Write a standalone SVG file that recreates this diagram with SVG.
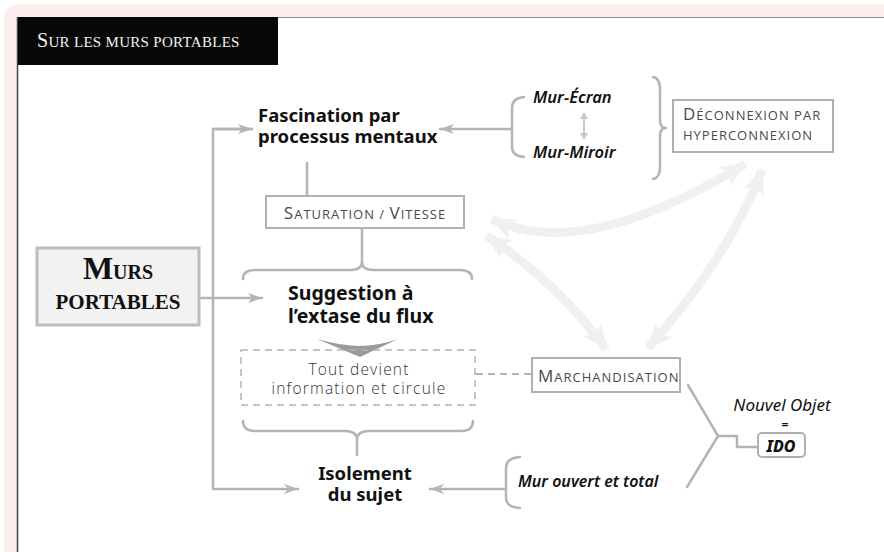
<svg xmlns="http://www.w3.org/2000/svg" width="884" height="552" viewBox="0 0 884 552">
<defs>
<style>
.ln{fill:none;stroke:#b4b4b4;stroke-width:2.5;stroke-linecap:round;stroke-linejoin:round}
.big{fill:none;stroke:#f0f0f0;stroke-width:9}
.bold{font-family:"Noto Sans",Lato,sans-serif;font-weight:700;fill:#111}
.it{font-family:"Noto Sans",Lato,sans-serif;font-style:italic;font-weight:600;fill:#111}
.sc{font-family:"Open Sans","Noto Sans",sans-serif;font-weight:400;fill:#4a4a4a;letter-spacing:1px}
.box{fill:#fff;stroke:#b0b0b0;stroke-width:2}
</style>
<marker id="ah" viewBox="0 0 14 10" refX="14" refY="5" markerWidth="14" markerHeight="10" markerUnits="userSpaceOnUse" orient="auto">
<path d="M0,0 L14,5 L0,10 L4,5 Z" fill="#b4b4b4"/>
</marker>
<marker id="bh" viewBox="0 0 26 22" refX="24" refY="11" markerWidth="26" markerHeight="22" markerUnits="userSpaceOnUse" orient="auto-start-reverse">
<path d="M0,0 L26,11 L0,22 L6,11 Z" fill="#f0f0f0"/>
</marker>
</defs>
<rect x="0" y="0" width="884" height="552" fill="#fff"/>
<rect x="4" y="4" width="900" height="570" rx="14" fill="#fbefee"/>
<rect x="18" y="17" width="870" height="540" fill="#fff"/>
<line x1="18" y1="17.5" x2="884" y2="17.5" stroke="#8a8a8a" stroke-width="1"/>
<line x1="17.5" y1="17" x2="17.5" y2="552" stroke="#444" stroke-width="1.5"/>
<g id="title">
<rect x="18" y="17" width="260" height="48" fill="#080808"/>
<text x="37" y="47" font-family="Liberation Serif,serif" fill="#f2f2f2" letter-spacing="0.3"><tspan font-size="20">S</tspan><tspan font-size="15">UR LES MURS PORTABLES</tspan></text>
</g>
<g id="connectors">
<path class="big" d="M492,219 Q582,263 745,164" marker-start="url(#bh)" marker-end="url(#bh)"/>
<path class="big" d="M487,236 Q560,285 606,349" marker-start="url(#bh)" marker-end="url(#bh)"/>
<path class="big" d="M648,348 Q729,257 762,170" marker-start="url(#bh)" marker-end="url(#bh)"/>
<path class="ln" d="M200,298 L262,298" marker-end="url(#ah)"/>
<path class="ln" d="M252,129 L213,129 L213,489 L298,489" marker-end="url(#ah)"/>
<path class="ln" d="M213,129 L252,129" marker-end="url(#ah)"/>
<path class="ln" d="M512,129 L440,129" marker-end="url(#ah)"/>
<path class="ln" d="M524,97 Q512,98 512,108 L512,147 Q512,156 524,157"/>
<path class="ln" d="M653,77 Q660,78 660,90 L660,120 Q660,128 666,128 Q660,128 660,136 L660,167 Q660,178 653,179"/>
<path d="M584,114 L584,138" stroke="#c8c8c8" stroke-width="2"/>
<path d="M580,119 L584,112 L588,119 Z M580,133 L584,140 L588,133 Z" fill="#c8c8c8"/>
<path class="ln" d="M307,163 L307,196"/>
<path class="ln" d="M362,228 L362,262"/>
<path class="ln" d="M243,279 Q243,270 255,270 L350,270 Q362,270 362,262 Q362,270 374,270 L460,270 Q472,270 472,279"/>
<path d="M317,339 Q342,346 360,346 Q378,346 398,339 L360,357 Z" fill="#9a9a9a"/>
<path d="M476,374 L531,374" stroke="#b4b4b4" stroke-width="2" stroke-dasharray="7,5"/>
<path class="ln" d="M243,421 Q243,431 255,431 L345,431 Q357,431 357,440 Q357,431 369,431 L461,431 Q473,431 473,421"/>
<path class="ln" d="M357,440 L357,455"/>
<path class="ln" d="M506,489 L430,489" marker-end="url(#ah)"/>
<path class="ln" d="M520,457 Q506,458 506,468 L506,498 Q506,507 520,508"/>
<path class="ln" d="M688,385 L718,436 L687,487"/>
<path class="ln" d="M718,436 L737,436 L737,447 L758,447"/>
</g>
<g id="murs-portables">
<rect x="37" y="248" width="162" height="77" fill="#f2f2f2" stroke="#bdbdbd" stroke-width="3"/>
<text x="118" y="279" text-anchor="middle" font-family="Liberation Serif,serif" font-weight="bold" fill="#111"><tspan font-size="32">M</tspan><tspan font-size="20">URS</tspan></text>
<text x="118" y="309" text-anchor="middle" font-family="Liberation Serif,serif" font-weight="bold" font-size="21" fill="#111">PORTABLES</text>
</g>
<g id="fascination">
<text class="bold" x="258" y="122" font-size="18.5">Fascination par</text>
<text class="bold" x="258" y="143" font-size="18.5">processus mentaux</text>
</g>
<g id="mur-ecran"><text class="it" x="533" y="103" font-size="16.5">Mur-Écran</text></g>
<g id="mur-miroir"><text class="it" x="533" y="158" font-size="16.5">Mur-Miroir</text></g>
<g id="deconnexion">
<rect class="box" x="673" y="100" width="160" height="52"/>
<text class="sc" x="683" y="120"><tspan font-size="17">D</tspan><tspan font-size="13">ÉCONNEXION PAR</tspan></text>
<text class="sc" x="683" y="140" font-size="13">HYPERCONNEXION</text>
</g>
<g id="saturation">
<rect class="box" x="266" y="196" width="198" height="32"/>
<text class="sc" x="365" y="219" text-anchor="middle"><tspan font-size="17">S</tspan><tspan font-size="13">ATURATION / </tspan><tspan font-size="17">V</tspan><tspan font-size="13">ITESSE</tspan></text>
</g>
<g id="suggestion">
<text class="bold" x="288" y="300" font-size="19.5">Suggestion à</text>
<text class="bold" x="288" y="323" font-size="19.5">l’extase du flux</text>
</g>
<g id="tout-devient">
<rect x="241" y="350" width="234" height="55" fill="none" stroke="#b4b4b4" stroke-width="1.5" stroke-dasharray="7,5"/>
<text x="359" y="375" text-anchor="middle" font-family="'Open Sans','Noto Sans',sans-serif" font-weight="300" font-size="15.5" letter-spacing="1.2" fill="#333">Tout devient</text>
<text x="359" y="394" text-anchor="middle" font-family="'Open Sans','Noto Sans',sans-serif" font-weight="300" font-size="15.5" letter-spacing="1.2" fill="#333">information et circule</text>
</g>
<g id="marchandisation">
<rect class="box" x="532" y="358" width="148" height="34"/>
<text class="sc" x="538" y="382"><tspan font-size="17">M</tspan><tspan font-size="13">ARCHANDISATION</tspan></text>
</g>
<g id="isolement">
<text class="bold" x="365" y="480" font-size="18.5" text-anchor="middle">Isolement</text>
<text class="bold" x="365" y="501" font-size="18.5" text-anchor="middle">du sujet</text>
</g>
<g id="mur-ouvert"><text class="it" x="518" y="487" font-size="16">Mur ouvert et total</text></g>
<g id="ido">
<text x="782" y="411" text-anchor="middle" font-family="'Noto Sans',Lato,sans-serif" font-style="italic" font-size="17" fill="#111">Nouvel Objet</text>
<text x="785" y="429" text-anchor="middle" font-family="'Noto Sans',Lato,sans-serif" font-weight="bold" font-size="12" fill="#111">=</text>
<rect x="758" y="433" width="47" height="24" rx="4" fill="#fff" stroke="#b0b0b0" stroke-width="2"/>
<text x="781" y="452" text-anchor="middle" font-family="'Noto Sans',Lato,sans-serif" font-style="italic" font-weight="800" font-size="16" fill="#111">IDO</text>
</g>
</svg>
